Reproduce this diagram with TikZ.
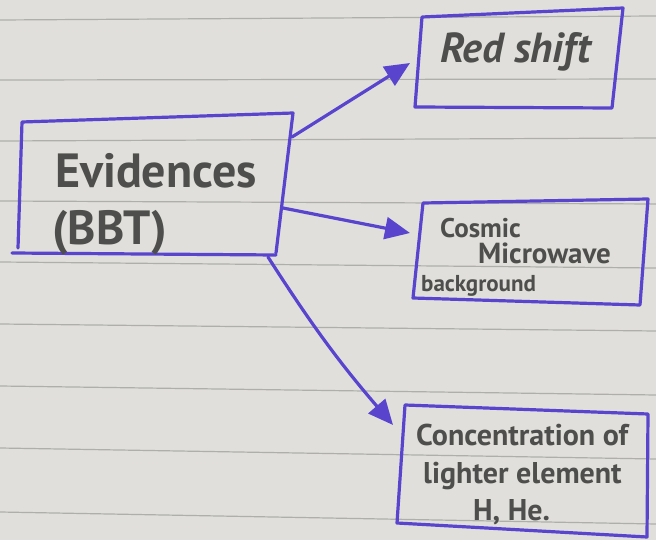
\documentclass[tikz,border=0pt]{standalone}
\usepackage{fontspec}
\setmainfont{PT Sans}
\usetikzlibrary{arrows.meta}
\definecolor{paper}{RGB}{224,223,219}
\definecolor{ruling}{RGB}{174,174,171}
\definecolor{pen}{RGB}{88,68,205}
\definecolor{ink}{RGB}{78,78,76}
\tikzset{
  penline/.style={pen, line width=3.2pt, line join=round, line cap=round},
  penarrow/.style={penline, -{Triangle[length=25pt,width=22pt]}},
  hand/.style={ink, inner sep=0pt, anchor=base west},
  big/.style={hand, font=\fontsize{48}{52}\selectfont\bfseries},
  conc/.style={hand, font=\fontsize{30}{32}\selectfont\bfseries},
}
\begin{document}
\begin{tikzpicture}[x=1pt,y=-1pt]
\fill[paper] (0,0) rectangle (656,540);
\useasboundingbox (0,0) rectangle (656,540);
% ruled paper
\foreach \yl/\yr in {20/16, 80/79, 141/138, 201/204, 262/268, 324/331, 386/395, 448/459, 512/524}
  \draw[ruling, line width=1.2pt] (0,\yl) -- (656,\yr);

% Evidences box
\draw[penline] (18,248) -- (22,122) -- (293,113) -- (276,253);
\draw[penline] (12,253) -- (276,255);
\node[big] (ev1) at (55,188) {Evidences};
\node[big] (ev2) at (52,244) {(BBT)};

% Red shift box
\draw[penline] (422,17) -- (623,8) -- (612,108) -- (415,107) -- cycle;
\node[hand, font=\fontsize{42}{44}\selectfont\bfseries\itshape] (rs) at (440,63) {Red shift};

% Cosmic microwave box
\draw[penline] (423,203) -- (648,199) -- (640,305) -- (413,298) -- cycle;
\node[hand, font=\fontsize{27}{29}\selectfont\bfseries] (c1) at (440,237) {Cosmic};
\node[hand, font=\fontsize{29}{31}\selectfont\bfseries] (c2) at (478,264) {Microwave};
\node[hand, font=\fontsize{23}{25}\selectfont\bfseries] (c3) at (421,291) {background};

% Concentration box
\draw[penline] (405,405) -- (648,414) -- (647,537) -- (397,523) -- cycle;
\node[conc] (k1) at (416,445) {Concentration of};
\node[conc] (k2) at (423,483) {lighter element};
\node[conc] (k3) at (473,520) {H, He.};

% connectors
\coordinate (a1s) at (292,137);
\coordinate (a1e) at (410,63);
\coordinate (a2s) at (283,208);
\coordinate (a2e) at (410,233);
\coordinate (a3s) at (268,257);
\coordinate (a3e) at (393,425);
\draw[penarrow] (a1s) -- (a1e);
\draw[penarrow] (a2s) -- (a2e);
\draw[penarrow] (a3s) to[bend right=4] (a3e);
\end{tikzpicture}
\end{document}
